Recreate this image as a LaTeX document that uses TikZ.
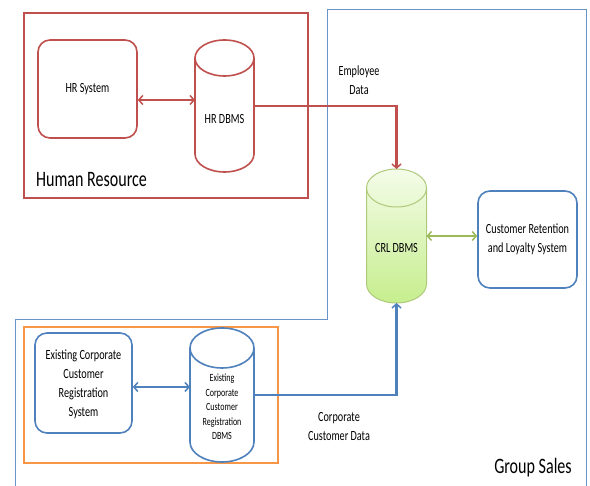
\documentclass[tikz,border=0pt]{standalone}
\usepackage{fontspec}
\setmainfont{Carlito}
\usetikzlibrary{arrows.meta,calc}

\definecolor{hrred}{HTML}{C0504D}
\definecolor{gsblue}{HTML}{4F81BD}
\definecolor{orgorange}{HTML}{F79646}
\definecolor{crlgreen}{HTML}{9BBB59}
\definecolor{crltop}{HTML}{F4FCE9}
\definecolor{crlbot}{HTML}{C6EE8E}

% cylinder outline: #1 centre x, #2 top, #3 bottom, #4 x radius, #5 y radius,
% #6 body style (fill or shading), #7 stroke style
\newcommand{\dbcylinder}[7]{%
  \path[#6] (#1-#4,#2-#5) -- (#1-#4,#3+#5)
    arc[start angle=180,end angle=360,x radius=#4,y radius=#5]
    -- (#1+#4,#2-#5)
    arc[start angle=0,end angle=180,x radius=#4,y radius=#5] -- cycle;
  \draw[#7] (#1-#4,#2-#5) -- (#1-#4,#3+#5)
    arc[start angle=180,end angle=360,x radius=#4,y radius=#5]
    -- (#1+#4,#2-#5)
    arc[start angle=0,end angle=180,x radius=#4,y radius=#5] -- cycle;
  \draw[#7] (#1-#4,#2-#5)
    arc[start angle=180,end angle=360,x radius=#4,y radius=#5];
}

\begin{document}
\begin{tikzpicture}[x=1pt,y=1pt,
  lbl/.style={font=\fontsize{14}{19}\selectfont,align=center,inner sep=0pt,xscale=0.73,transform shape},
  smalllbl/.style={font=\fontsize{11}{14.5}\selectfont,align=center,inner sep=0pt,xscale=0.73,transform shape},
  biglbl/.style={font=\fontsize{22}{26}\selectfont,inner sep=0pt,xscale=0.73,transform shape},
  sysbox/.style={draw,rounded corners=12pt,line width=1.6pt,inner sep=0pt},
  anchorbox/.style={inner sep=0pt,outer sep=0pt},
  flow/.style={line width=2.2pt,-{Straight Barb[length=4pt,width=9pt,line width=1.5pt]}},
  biflow/.style={line width=2.2pt,{Straight Barb[length=4pt,width=9pt,line width=1.5pt]}-{Straight Barb[length=4pt,width=9pt,line width=1.5pt]}}
]
\useasboundingbox (0,0) rectangle (590,486);
\fill[white] (0,0) rectangle (590,486);

% Group Sales area (stepped outline)
\draw[gsblue!85,line width=1pt] (15,0) -- (15,166) -- (327,166) -- (327,476) -- (586,476) -- (586,0);

% Human Resource area
\draw[hrred,line width=2pt] (24,288) rectangle (308,473);
\node (hrsys) at (87.5,397) [sysbox,hrred,minimum width=99pt,minimum height=98pt] {};
\node[lbl] (hrsystxt) at (hrsys.center) {HR System};
\dbcylinder{224.5}{446}{314}{29.5}{18}{fill=white}{hrred,line width=1.6pt}
\node[anchorbox,minimum width=59pt,minimum height=132pt] (hrdb) at (224.5,380) {};
\node[lbl] (hrdbtxt) at (224.5,367) {HR DBMS};
\node[biglbl,anchor=west] (hrtitle) at (36,306) {Human Resource};

% CRL database and retention system
\dbcylinder{396.5}{317}{183}{30}{19}{top color=crltop,bottom color=crlbot}{crlgreen!80,line width=1pt}
\node[anchorbox,minimum width=60pt,minimum height=134pt] (crl) at (396.5,250) {};
\node[lbl] (crltxt) at (396.5,238) {CRL DBMS};
\node (crr) at (527.5,246.5) [sysbox,gsblue,minimum width=99pt,minimum height=97pt] {};
\node[lbl] (crrtxt) at (crr.center) {Customer Retention\\and Loyalty System};

% Existing corporate customer registration area
\draw[orgorange,line width=2pt] (24,23) rectangle (278,159);
\node (eccrsys) at (83.5,103) [sysbox,gsblue,minimum width=97pt,minimum height=100pt] {};
\node[lbl] (eccrsystxt) at (83.5,102) {Existing Corporate\\Customer\\Registration\\System};
\dbcylinder{222}{158}{24}{32}{20}{fill=white}{gsblue,line width=1.6pt}
\node[anchorbox,minimum width=64pt,minimum height=134pt] (eccrdb) at (222,91) {};
\node[smalllbl] (eccrdbtxt) at (222,79) {Existing\\Corporate\\Customer\\Registration\\DBMS};

% flow labels
\node[lbl] (emplbl) at (359,405.5) {Employee\\Data};
\node[lbl] (corplbl) at (339,59) {Corporate\\Customer Data};
\node[biglbl] (gstitle) at (533,18) {Group Sales};

% connectors
\draw[biflow,hrred] ([yshift=-11pt]hrsys.east) -- ([yshift=-11pt]hrsys.east -| hrdb.west);
\draw[flow,hrred] (hrdb.east) -| (crl.north);
\draw[biflow,crlgreen] (crl.east) -- (crl.east -| crr.west);
\draw[biflow,gsblue] ([yshift=-4pt]eccrsys.east) -- ([yshift=-4pt]eccrsys.east -| eccrdb.west);
\draw[flow,gsblue] (eccrdb.east) -| (crl.south);
\end{tikzpicture}
\end{document}
